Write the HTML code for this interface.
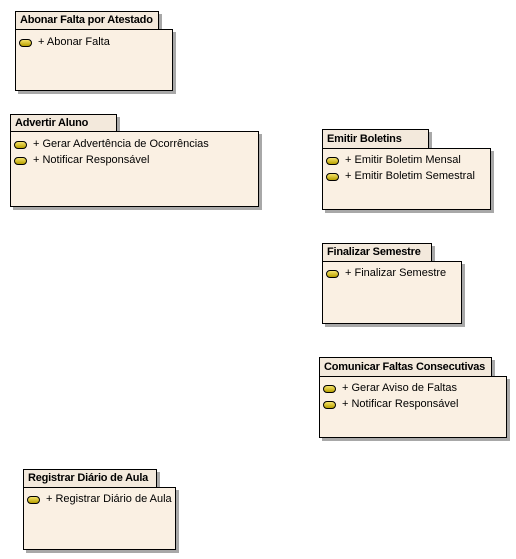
<!DOCTYPE html>
<html><head><meta charset="utf-8"><style>
body{margin:0;width:516px;height:559px;background:#fff;position:relative;overflow:hidden;font-family:"Liberation Sans",Arial,sans-serif;}
.t,.b{position:absolute;border:1px solid #000;box-sizing:border-box;box-shadow:3px 3px 0 #a8a8a8;}
.t{background:#f3e9dc;font-size:11px;font-weight:bold;color:#000;padding-left:4px;line-height:17px;white-space:nowrap;overflow:visible;letter-spacing:-0.2px;}
.b{background:#faf0e3;}
.i{position:absolute;font-size:11px;color:#000;line-height:13px;white-space:nowrap;}
.i:before{content:"";position:absolute;left:-19px;top:3px;width:11px;height:6px;border:1px solid #000;border-radius:4px;background:linear-gradient(#f5e26a,#b8a000);}
</style></head><body>

<div class="t" style="left:15px;top:11px;width:144px;height:19px">Abonar Falta por Atestado</div>
<div class="b" style="left:15px;top:29px;width:158px;height:62px"></div>
<div class="i" style="left:38px;top:36px">+ Abonar Falta</div>

<div class="t" style="left:10px;top:114px;width:107px;height:18px">Advertir Aluno</div>
<div class="b" style="left:10px;top:131px;width:249px;height:76px"></div>
<div class="i" style="left:33px;top:138px">+ Gerar Advertência de Ocorrências</div>
<div class="i" style="left:33px;top:154px">+ Notificar Responsável</div>

<div class="t" style="left:322px;top:129px;width:107px;height:20px;line-height:19px">Emitir Boletins</div>
<div class="b" style="left:322px;top:148px;width:169px;height:62px"></div>
<div class="i" style="left:345px;top:154px">+ Emitir Boletim Mensal</div>
<div class="i" style="left:345px;top:170px">+ Emitir Boletim Semestral</div>

<div class="t" style="left:322px;top:243px;width:110px;height:19px">Finalizar Semestre</div>
<div class="b" style="left:322px;top:261px;width:140px;height:63px"></div>
<div class="i" style="left:345px;top:267px">+ Finalizar Semestre</div>

<div class="t" style="left:319px;top:357px;width:173px;height:20px;line-height:19px">Comunicar Faltas Consecutivas</div>
<div class="b" style="left:319px;top:376px;width:188px;height:62px"></div>
<div class="i" style="left:342px;top:382px">+ Gerar Aviso de Faltas</div>
<div class="i" style="left:342px;top:398px">+ Notificar Responsável</div>

<div class="t" style="left:23px;top:469px;width:134px;height:19px">Registrar Diário de Aula</div>
<div class="b" style="left:23px;top:487px;width:153px;height:63px"></div>
<div class="i" style="left:46px;top:493px">+ Registrar Diário de Aula</div>

</body></html>
